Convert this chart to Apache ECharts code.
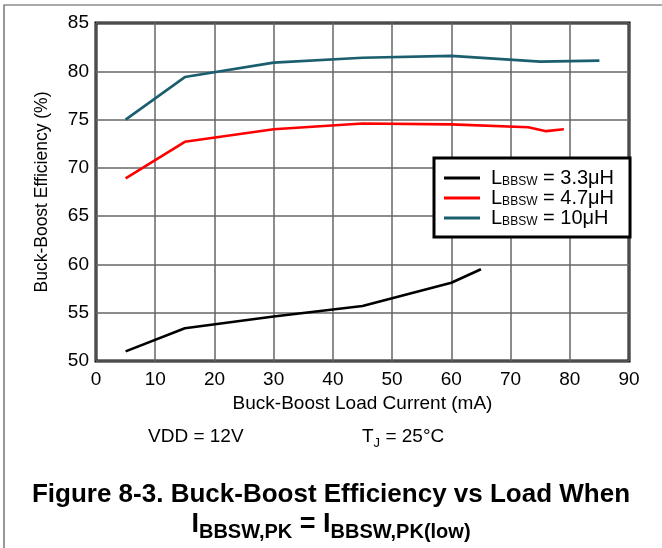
<!DOCTYPE html>
<html>
<head>
<meta charset="utf-8">
<script src="https://cdn.jsdelivr.net/npm/echarts@6/dist/echarts.min.js"></script>
<style>
  html, body { margin: 0; padding: 0; background: #fff; }
  #chart { width: 662px; height: 548px; }
</style>
</head>
<body>
<div id="chart"></div>
<script>
// load current (mA) / efficiency (%)
const load33 = [5, 15, 30, 45, 60, 65];
const eff33 = [51.0, 53.4, 54.6, 55.7, 58.1, 59.5];
const load47 = [5, 15, 30, 45, 60, 73, 76, 79];
const eff47 = [68.9, 72.7, 74.0, 74.6, 74.5, 74.2, 73.8, 74.0];
const load10 = [5, 15, 30, 45, 60, 75, 85];
const eff10 = [75.0, 79.4, 80.9, 81.4, 81.6, 81.0, 81.1];

const names = ['L{s|BBSW} = 3.3μH', 'L{s|BBSW} = 4.7μH', 'L{s|BBSW} = 10μH'];
const colors = ['#000000', '#ff0000', '#1b5e6e'];

const font = 'Liberation Sans, Arial, sans-serif';

function pairs(xs, ys) {
    return xs.map((x, i) => [x, ys[i]]);
}

const chart = echarts.init(document.getElementById('chart'));

const option = {
    animation: false,
    color: colors,
    textStyle: { fontFamily: font, color: '#000' },
    grid: {
        left: 96, top: 23, width: 533, height: 338,
        show: true, borderColor: '#000', borderWidth: 3
    },
    legend: {
        orient: 'vertical',
        left: 434, top: 158,
        padding: [10, 16, 9, 10],
        itemGap: 0,
        itemWidth: 36, itemHeight: 3,
        icon: 'rect',
        borderColor: '#000', borderWidth: 3,
        backgroundColor: '#fff',
        data: names,
        textStyle: {
            fontSize: 20, lineHeight: 20, color: '#000', padding: [0, 0, 0, 6],
            rich: {
                s: { fontSize: 12, lineHeight: 10, verticalAlign: 'bottom' }
            }
        }
    },
    xAxis: {
        type: 'value', min: 0, max: 90, interval: 10,
        name: 'Buck-Boost Load Current (mA)',
        nameLocation: 'middle', nameGap: 33,
        nameTextStyle: { fontSize: 19, color: '#000' },
        axisLine: { show: false },
        axisTick: { show: false },
        axisLabel: { fontSize: 19, color: '#000', margin: 9 },
        splitLine: { lineStyle: { color: '#666', width: 1.5 } }
    },
    yAxis: {
        type: 'value', min: 50, max: 85, interval: 5,
        name: 'Buck-Boost Efficiency (%)',
        nameLocation: 'middle', nameGap: 45,
        nameTextStyle: { fontSize: 17.5, color: '#000' },
        axisLine: { show: false },
        axisTick: { show: false },
        axisLabel: { fontSize: 19, color: '#000', margin: 7 },
        splitLine: { lineStyle: { color: '#666', width: 1.5 } }
    },
    series: [
        { name: names[0], type: 'line', data: pairs(load33, eff33) },
        { name: names[1], type: 'line', data: pairs(load47, eff47) },
        { name: names[2], type: 'line', data: pairs(load10, eff10) }
    ].map(s => Object.assign(s, {
        showSymbol: false, symbol: 'none',
        lineStyle: { width: 2.6 }
    })),
    graphic: [
        {
            type: 'polyline', silent: true,
            shape: { points: [[4, 600], [4, 5], [700, 5]] },
            style: { stroke: '#555', lineWidth: 1.2, fill: null }
        },
        {
            type: 'text', left: 148, top: 427,
            style: { text: 'VDD = 12V', font: '19px ' + font, fill: '#000' }
        },
        {
            type: 'text', left: 362, top: 427,
            style: {
                text: 'T{s|J} = 25°C', font: '19px ' + font, fill: '#000',
                rich: { s: { fontSize: 13, lineHeight: 27, verticalAlign: 'bottom' } }
            }
        },
        {
            type: 'text', left: 'center', top: 482,
            style: {
                text: 'Figure 8-3. Buck-Boost Efficiency vs Load When',
                font: 'bold 26px ' + font, fill: '#000'
            }
        },
        {
            type: 'text', left: 'center', top: 511,
            style: {
                text: 'I{s|BBSW,PK} = I{s|BBSW,PK(low)}',
                font: 'bold 27px ' + font, fill: '#000',
                rich: { s: { fontSize: 20, fontWeight: 'bold', lineHeight: 36, verticalAlign: 'bottom' } }
            }
        }
    ]
};

chart.setOption(option);
</script>
</body>
</html>
